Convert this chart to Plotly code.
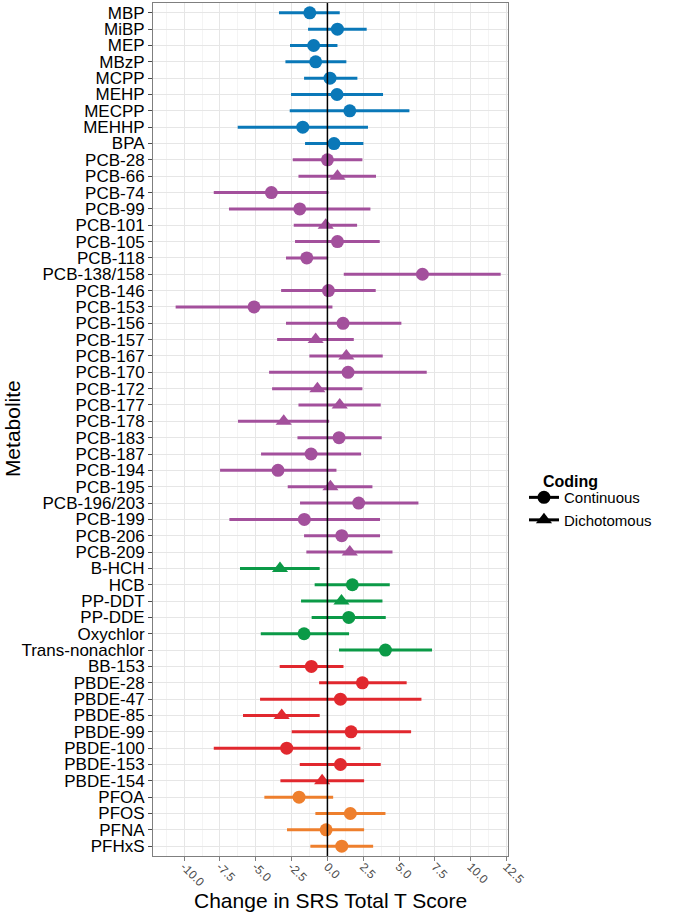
import plotly.graph_objects as go

metabolites = ["MBP", "MiBP", "MEP", "MBzP", "MCPP", "MEHP", "MECPP", "MEHHP", "BPA",
               "PCB-28", "PCB-66", "PCB-74", "PCB-99", "PCB-101", "PCB-105", "PCB-118",
               "PCB-138/158", "PCB-146", "PCB-153", "PCB-156", "PCB-157", "PCB-167",
               "PCB-170", "PCB-172", "PCB-177", "PCB-178", "PCB-183", "PCB-187",
               "PCB-194", "PCB-195", "PCB-196/203", "PCB-199", "PCB-206", "PCB-209",
               "B-HCH", "HCB", "PP-DDT", "PP-DDE", "Oxychlor", "Trans-nonachlor",
               "BB-153", "PBDE-28", "PBDE-47", "PBDE-85", "PBDE-99", "PBDE-100",
               "PBDE-153", "PBDE-154", "PFOA", "PFOS", "PFNA", "PFHxS"]

groups = (["Phthalates/BPA"] * 9 + ["PCB"] * 25 + ["Pesticides"] * 6 +
          ["PBDE"] * 8 + ["PFAS"] * 4)

coding = ["Continuous"] * 10 + ["Dichotomous", "Continuous", "Continuous",
          "Dichotomous", "Continuous", "Continuous", "Continuous", "Continuous",
          "Continuous", "Continuous", "Dichotomous", "Dichotomous", "Continuous",
          "Dichotomous", "Dichotomous", "Dichotomous", "Continuous", "Continuous",
          "Continuous", "Dichotomous", "Continuous", "Continuous", "Continuous",
          "Dichotomous", "Dichotomous", "Continuous", "Dichotomous", "Continuous",
          "Continuous", "Continuous", "Continuous", "Continuous", "Continuous",
          "Dichotomous", "Continuous", "Continuous", "Continuous", "Dichotomous",
          "Continuous", "Continuous", "Continuous", "Continuous"]

estimate = [-1.23, 0.70, -0.96, -0.82, 0.18, 0.67, 1.56, -1.72, 0.46,
            0.0, 0.70, -3.91, -1.93, -0.12, 0.70, -1.44, 6.63, 0.07, -5.12,
            1.09, -0.82, 1.32, 1.44, -0.70, 0.86, -3.05, 0.81, -1.14, -3.45,
            0.21, 2.18, -1.61, 1.00, 1.56,
            -3.31, 1.74, 0.98, 1.49, -1.63, 4.05,
            -1.12, 2.44, 0.91, -3.19, 1.65, -2.84, 0.91, -0.37,
            -1.98, 1.60, -0.09, 1.00]

lower = [-3.38, -1.35, -2.61, -2.93, -1.63, -2.54, -2.63, -6.26, -1.56,
         -2.42, -2.02, -7.93, -6.87, -2.35, -2.26, -2.89, 1.14, -3.23, -10.59,
         -2.89, -3.51, -1.26, -4.07, -3.86, -2.02, -6.24, -2.09, -4.63, -7.49,
         -2.77, -1.91, -6.84, -1.63, -1.47,
         -6.10, -0.89, -1.84, -1.10, -4.65, 0.81,
         -3.33, -0.58, -4.70, -5.89, -2.49, -7.93, -1.93, -3.28,
         -4.40, -0.84, -2.82, -1.19]

upper = [0.86, 2.74, 0.70, 1.32, 2.09, 3.88, 5.72, 2.83, 2.51,
         2.44, 3.39, 0.07, 3.00, 2.07, 3.65, 0.05, 12.09, 3.37, 0.35,
         5.16, 1.84, 3.86, 6.93, 2.44, 3.72, 0.12, 3.79, 2.35, 0.63,
         3.14, 6.35, 3.67, 3.67, 4.54,
         -0.54, 4.35, 3.84, 4.07, 1.51, 7.30,
         1.12, 5.53, 6.56, -0.54, 5.84, 2.30, 3.72, 2.56,
         0.40, 4.05, 2.56, 3.19]

group_colors = {"Phthalates/BPA": "#0a78b8", "PCB": "#a3509c", "Pesticides": "#0b9a47",
                "PBDE": "#e1282e", "PFAS": "#ee7f2d"}
symbol_map = {"Continuous": "circle", "Dichotomous": "triangle-up"}
size_map = {"Continuous": 13, "Dichotomous": 14}

fig = go.Figure()

for g, col in group_colors.items():
    idx = [i for i, gg in enumerate(groups) if gg == g]
    fig.add_trace(go.Scatter(
        x=[estimate[i] for i in idx],
        y=[metabolites[i] for i in idx],
        mode="markers",
        marker=dict(color=col, symbol=[symbol_map[coding[i]] for i in idx],
                    size=[size_map[coding[i]] for i in idx], opacity=1,
                    line=dict(width=0)),
        error_x=dict(type="data", symmetric=False,
                     array=[upper[i] - estimate[i] for i in idx],
                     arrayminus=[estimate[i] - lower[i] for i in idx],
                     color=col, thickness=3, width=0),
        showlegend=False, hoverinfo="skip"))

for c in ["Continuous", "Dichotomous"]:
    fig.add_trace(go.Scatter(
        x=[None], y=[None], mode="lines+markers", name=c,
        marker=dict(color="black", symbol=symbol_map[c], size=size_map[c], opacity=1),
        line=dict(color="black", width=3)))

fig.add_vline(x=0, line=dict(color="black", width=1.5), layer="above")

tick_vals = [-10.0, -7.5, -5.0, -2.5, 0.0, 2.5, 5.0, 7.5, 10.0, 12.5]
tick_text = ["-10.0", "-7.5", "-5.0", "-2.5", "0.0", "2.5", "5.0", "7.5", "10.0", "12.5"]

fig.update_layout(
    width=680, height=915,
    margin=dict(l=153, r=172, t=3, b=59, autoexpand=False),
    paper_bgcolor="white", plot_bgcolor="white",
    font=dict(family="Liberation Sans, Arial, sans-serif", color="black"),
    xaxis=dict(
        range=[-12.17, 12.6], tickvals=tick_vals, ticktext=tick_text,
        tickangle=45, tickfont=dict(size=12, color="#4d4d4d"),
        ticks="outside", ticklen=4, tickcolor="#7f7f7f",
        ticklabelstandoff=-6,
        showgrid=True, gridcolor="#e6e6e6", gridwidth=0.6,
        minor=dict(dtick=1.25, tick0=-11.25, showgrid=True, gridcolor="#f4f4f4", gridwidth=1),
        showline=True, linecolor="#7f7f7f", linewidth=1, mirror=True,
        zeroline=False, automargin=False),
    yaxis=dict(
        type="category", categoryorder="array", categoryarray=metabolites,
        tickmode="array", tickvals=metabolites, ticktext=metabolites,
        range=[51.6, -0.6], tickfont=dict(size=17, color="black"),
        ticks="outside", ticklen=4, tickcolor="#4d4d4d",
        showgrid=True, gridcolor="#e6e6e6", gridwidth=0.6,
        showline=True, linecolor="#7f7f7f", linewidth=1, mirror=True,
        automargin=False),
    legend=dict(
        font=dict(size=15), x=1.045, xanchor="left", y=0.4395, yanchor="top",
        itemwidth=30, tracegroupgap=0, bgcolor="rgba(0,0,0,0)"),
    annotations=[
        dict(text="Change in SRS Total T Score", xref="paper", yref="paper",
             x=0.5, y=-0.0516, xanchor="center", yanchor="middle",
             showarrow=False, font=dict(size=21)),
        dict(text="Metabolite", xref="paper", yref="paper",
             x=-0.394, y=0.5006, xanchor="center", yanchor="middle", textangle=-90,
             showarrow=False, font=dict(size=21)),
        dict(text="<b>Coding</b>", xref="paper", yref="paper",
             x=1.093, y=0.4385, xanchor="left", yanchor="middle",
             showarrow=False, font=dict(size=16)),
    ],
)

fig.write_html("out.html", config={"displayModeBar": False},
               post_script="document.body.style.margin='0px';")
